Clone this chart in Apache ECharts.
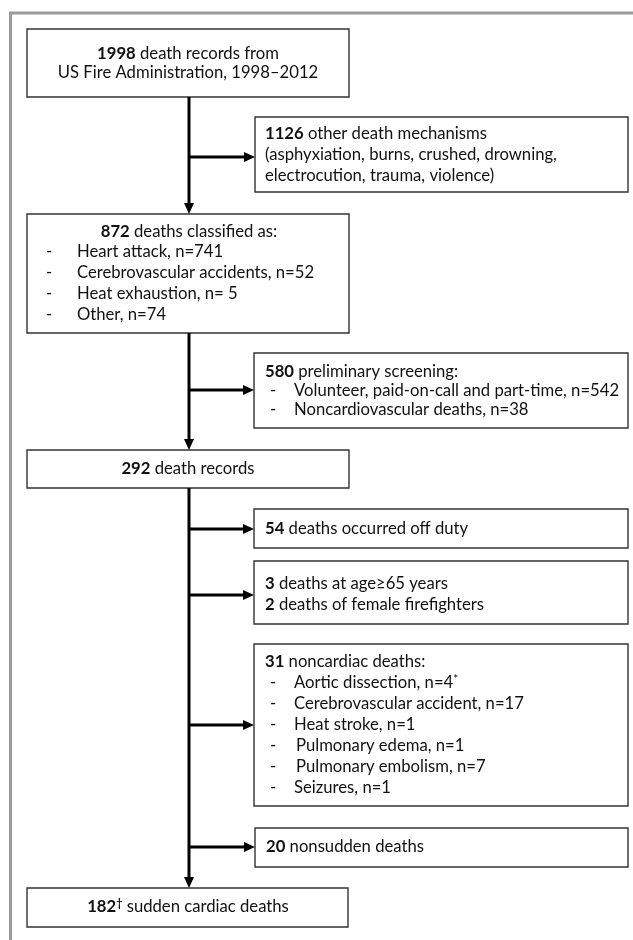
<!DOCTYPE html>
<html><head><meta charset="utf-8">
<script src="https://cdn.jsdelivr.net/npm/echarts@6/dist/echarts.min.js"></script>
<style>html,body{margin:0;padding:0;background:#fff}#c{width:633px;height:940px}</style>
</head><body><div id="c"></div>
<script>
// ---- data ----
const mainCounts = [1998, 872, 292, 182];
const excludedCounts = [1126, 580, 54, 3, 2, 31, 20];
const otherMechanisms = ['asphyxiation', 'burns', 'crushed', 'drowning', 'electrocution', 'trauma', 'violence'];
const classifiedLabels = ['Heart attack', 'Cerebrovascular accidents', 'Heat exhaustion', 'Other'];
const classifiedCounts = [741, 52, 5, 74];
const classifiedSep = ['n=', 'n=', 'n= ', 'n='];
const screeningLabels = ['Volunteer, paid-on-call and part-time', 'Noncardiovascular deaths'];
const screeningCounts = [542, 38];
const noncardiacLabels = ['Aortic dissection', 'Cerebrovascular accident', 'Heat stroke', 'Pulmonary edema', 'Pulmonary embolism', 'Seizures'];
const noncardiacCounts = [4, 17, 1, 1, 7, 1];
const noncardiacMarks = ['*', '', '', '', '', ''];

// ---- layout (diagram coordinates, 633 x 940 units) ----
const boxes = [
  [27, 29, 349, 97], [255, 117, 628, 192], [27, 214, 349, 333], [254, 353, 628, 428],
  [27, 450, 349, 488], [254, 509, 628, 548], [254, 561, 628, 624], [254, 644, 628, 806],
  [255, 828, 628, 867], [27, 888, 348, 927]
];
const spineX = 189;
const arrows = [
  [spineX, 97, spineX, 214], [spineX, 333, spineX, 450], [spineX, 488, spineX, 888],
  [spineX, 157, 255, 157], [spineX, 390, 254, 390], [spineX, 529, 254, 529],
  [spineX, 595, 254, 595], [spineX, 725, 254, 725], [spineX, 847, 255, 847]
];
const frame = [[10.5, 940], [10.5, 13], [633, 13]];

const TX = 265, BX = 273, IX = 294;
const texts = [];
function T(x, y, t, a) { texts.push({ x, y, t, a: a || 'left' }); }
T(188, 54, `{b|${mainCounts[0]}} death records from`, 'center');
T(188, 73, 'US Fire Administration, 1998–2012', 'center');
T(TX, 134, `{b|${excludedCounts[0]}} other death mechanisms`);
T(TX, 155, '(' + otherMechanisms.slice(0, 4).join(', ') + ',');
T(TX, 176, otherMechanisms.slice(4).join(', ') + ')');
T(189, 232, `{b|${mainCounts[1]}} deaths classified as:`, 'center');
classifiedLabels.forEach((l, i) => {
  const y = 252 + i * 21;
  T(49, y, '-', 'center');
  T(77, y, `${l}, ${classifiedSep[i]}${classifiedCounts[i]}`);
});
T(TX, 372, `{b|${excludedCounts[1]}} preliminary screening:`);
screeningLabels.forEach((l, i) => {
  const y = 391 + i * 19;
  T(BX, y, '-', 'center');
  T(IX, y, `${l}, n=${screeningCounts[i]}`);
});
T(188, 469, `{b|${mainCounts[2]}} death records`, 'center');
T(TX, 529, `{b|${excludedCounts[2]}} deaths occurred off duty`);
T(TX, 584, `{b|${excludedCounts[3]}} deaths at age≥65 years`);
T(TX, 605, `{b|${excludedCounts[4]}} deaths of female firefighters`);
T(TX, 662, `{b|${excludedCounts[5]}} noncardiac deaths:`);
noncardiacLabels.forEach((l, i) => {
  const y = 683 + i * 21;
  T(BX, y, '-', 'center');
  const ix = (i === 3 || i === 4) ? IX + 2 : IX;
  T(ix, y, `${l}, n=${noncardiacCounts[i]}` + (noncardiacMarks[i] ? `{sup|${noncardiacMarks[i]}}` : ''));
});
T(TX + 1, 847, `{b|${excludedCounts[6]}} nonsudden deaths`);
T(188, 907, `{b|${mainCounts[3]}}{supb|†} sudden cardiac deaths`, 'center');

// ---- chart ----
const FONT = 'Lato';
const FS = 17;
const SX = 0.98;
const rich = {
  b: { fontWeight: 'bold', fontSize: FS, fontFamily: FONT, fill: '#111' },
  sup: { fontSize: 12, fontFamily: FONT, fill: '#111', padding: [0, 0, 8, 0] },
  supb: { fontSize: 11, fontWeight: 'bold', fontFamily: FONT, fill: '#111', padding: [0, 0, 8, 0] }
};
const chart = echarts.init(document.getElementById('c'), null, { renderer: 'canvas' });
chart.setOption({
  animation: false,
  backgroundColor: '#fff',
  grid: { left: 0, right: 0, top: 0, bottom: 0 },
  xAxis: { type: 'value', min: 0, max: 633, show: false },
  yAxis: { type: 'value', min: 0, max: 940, inverse: true, show: false },
  series: [
    {
      type: 'custom', silent: true, clip: false,
      data: [0],
      renderItem: (p, api) => ({
        type: 'polyline',
        shape: { points: frame.map(pt => api.coord(pt)) },
        style: { stroke: '#9a9a9a', lineWidth: 3, fill: null }
      })
    },
    {
      type: 'custom', silent: true, clip: false,
      data: boxes,
      renderItem: (p, api) => {
        const a = api.coord([api.value(0), api.value(1)]);
        const b = api.coord([api.value(2), api.value(3)]);
        return {
          type: 'rect',
          shape: { x: Math.min(a[0], b[0]), y: Math.min(a[1], b[1]), width: Math.abs(b[0] - a[0]), height: Math.abs(b[1] - a[1]) },
          style: { fill: '#fff', stroke: '#333', lineWidth: 1.4 }
        };
      }
    },
    {
      type: 'custom', silent: true, clip: false,
      data: arrows,
      renderItem: (p, api) => {
        const a = api.coord([api.value(0), api.value(1)]);
        const b = api.coord([api.value(2), api.value(3)]);
        const dx = b[0] - a[0], dy = b[1] - a[1];
        const len = Math.hypot(dx, dy), ux = dx / len, uy = dy / len;
        const L = 11, W = 5;
        const base = [b[0] - ux * L, b[1] - uy * L];
        return {
          type: 'group',
          children: [
            { type: 'line', shape: { x1: a[0], y1: a[1], x2: base[0] + ux, y2: base[1] + uy }, style: { stroke: '#000', lineWidth: 3 } },
            { type: 'polygon', shape: { points: [b, [base[0] - uy * W, base[1] + ux * W], [base[0] + uy * W, base[1] - ux * W]] }, style: { fill: '#000' } }
          ]
        };
      }
    },
    {
      type: 'custom', silent: true, clip: false,
      data: texts.map(t => [t.x, t.y]),
      renderItem: (p, api) => {
        const t = texts[p.dataIndex];
        const c = api.coord([api.value(0), api.value(1)]);
        return {
          type: 'text',
          x: c[0], y: c[1], scaleX: SX, scaleY: 1,
          style: {
            x: 0, y: 0, text: t.t, rich: rich,
            fontSize: FS, fontFamily: FONT, fill: '#111',
            align: t.a, verticalAlign: 'middle'
          }
        };
      }
    }
  ]
});
</script></body></html>
